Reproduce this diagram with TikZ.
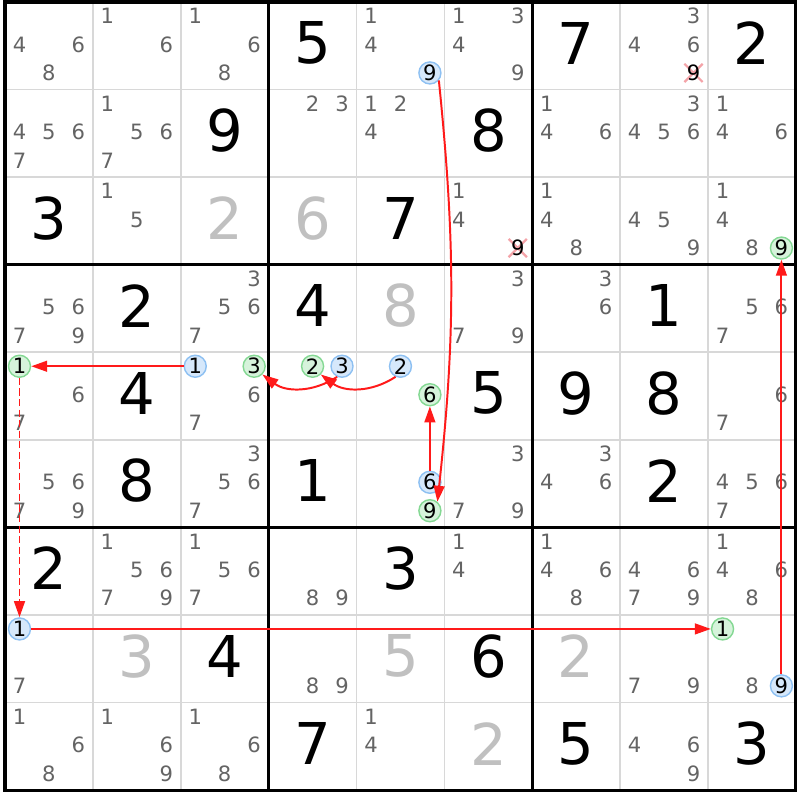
\documentclass[tikz,border=0pt]{standalone}
\usepackage{fontspec}
\setmainfont{DejaVu Sans}
\usepackage{tikz}
\usetikzlibrary{arrows.meta, shapes.misc}
\definecolor{Cand_Gray}{HTML}{646464}
\definecolor{Solved_Gray}{HTML}{C0C0C0}
\definecolor{Grid_Gray}{HTML}{D8D8D8}
\definecolor{On_Blue}{HTML}{D6E8FB}
\definecolor{On_BlueLine}{HTML}{8DC0F2}
\definecolor{Off_Green}{HTML}{D6F3DB}
\definecolor{Off_GreenLine}{HTML}{84D893}
\definecolor{Link_Red}{HTML}{FF1A1A}
\definecolor{Elim_Pink}{HTML}{F4A3A8}

% candidate d of cell (r,c) sits in a 3x3 sub-grid
\newcommand{\candpos}[3]{%
    \pgfmathsetmacro\cx{#2-1+0.165+0.335*mod(#3-1,3)}%
    \pgfmathsetmacro\cy{#1-1+0.16+0.325*int((#3-1)/3)}}
\newcommand{\cands}[3]{%
    \foreach \dig in {#3} {%
        \candpos{#1}{#2}{\dig}%
        \node[cand] (k#1#2\dig) at (\cx,\cy) {\dig};
    }}
\newcommand{\linkcand}[4]{%
    \candpos{#1}{#2}{#3}%
    \node[#4] (h#1#2#3) at (\cx,\cy) {#3};}
\newcommand{\elimcand}[3]{%
    \candpos{#1}{#2}{#3}%
    \node[elimx] (x#1#2#3) at (\cx,\cy) {};
    \node[candtxt] (k#1#2#3) at (\cx,\cy) {#3};}

\begin{document}
\begin{tikzpicture}[x=2.197cm, y=-2.189cm,
        candtxt/.style={font=\fontsize{15}{15}\selectfont, inner sep=0pt},
        cand/.style={candtxt, text=Cand_Gray},
        given/.style={font=\fontsize{41}{41}\selectfont, inner sep=0pt},
        solved/.style={given, text=Solved_Gray},
        onnode/.style={candtxt, circle, draw=On_BlueLine, fill=On_Blue, line width=1pt, minimum size=0.55cm},
        offnode/.style={onnode, draw=Off_GreenLine, fill=Off_Green},
        elimx/.style={cross out, draw=Elim_Pink, line width=1.6pt, minimum size=0.4cm, inner sep=0pt},
        cellline/.style={Grid_Gray, line width=1.2pt},
        boxline/.style={black, line width=2.2pt, line cap=rect},
        link/.style={-{Triangle[length=0.4cm, width=0.27cm]}, Link_Red, line width=1.4pt},
        weaklink/.style={link, dash pattern=on 5pt off 2.5pt}]
        % Page
        \fill[white] (-0.0569,-0.0228) rectangle (9.0444,9.1138);
        \useasboundingbox (-0.0569,-0.0228) rectangle (9.0444,9.1138);

        % 1. Grid
        \foreach \i in {1,2,4,5,7,8} {
            \draw[cellline] (\i,0) -- (\i,9);
            \draw[cellline] (0,\i) -- (9,\i);
        }
        \foreach \i in {0,3,6,9} {
            \draw[boxline] (\i,0) -- (\i,9);
            \draw[boxline] (0,\i) -- (9,\i);
        }

        % 2. Givens and solved cells
        \foreach \r/\c/\v in {1/4/5, 1/7/7, 1/9/2, 2/3/9, 2/6/8, 3/1/3, 3/5/7, 4/2/2, 4/4/4, 4/8/1, 5/2/4, 5/6/5,
                5/7/9, 5/8/8, 6/2/8, 6/4/1, 6/8/2, 7/1/2, 7/5/3, 8/3/4, 8/6/6, 9/4/7, 9/7/5, 9/9/3}
            \node[given] (g\r\c) at (\c-0.5, \r-0.53) {\v};
        \foreach \r/\c/\v in {3/3/2, 3/4/6, 4/5/8, 8/2/3, 8/5/5, 8/7/2, 9/6/2}
            \node[solved] (g\r\c) at (\c-0.5, \r-0.53) {\v};

        % 3. Pencil marks
        \cands{1}{1}{4,6,8} \cands{1}{2}{1,6} \cands{1}{3}{1,6,8} \cands{1}{5}{1,4} \cands{1}{6}{1,3,4,9}
        \cands{1}{8}{3,4,6}
        \cands{2}{1}{4,5,6,7} \cands{2}{2}{1,5,6,7} \cands{2}{4}{2,3} \cands{2}{5}{1,2,4} \cands{2}{7}{1,4,6}
        \cands{2}{8}{3,4,5,6} \cands{2}{9}{1,4,6}
        \cands{3}{2}{1,5} \cands{3}{6}{1,4} \cands{3}{7}{1,4,8} \cands{3}{8}{4,5,9} \cands{3}{9}{1,4,8}
        \cands{4}{1}{5,6,7,9} \cands{4}{3}{3,5,6,7} \cands{4}{6}{3,7,9} \cands{4}{7}{3,6} \cands{4}{9}{5,6,7}
        \cands{5}{1}{6,7} \cands{5}{3}{6,7} \cands{5}{9}{6,7}
        \cands{6}{1}{5,6,7,9} \cands{6}{3}{3,5,6,7} \cands{6}{6}{3,7,9} \cands{6}{7}{3,4,6} \cands{6}{9}{4,5,6,7}
        \cands{7}{2}{1,5,6,7,9} \cands{7}{3}{1,5,6,7} \cands{7}{4}{8,9} \cands{7}{6}{1,4} \cands{7}{7}{1,4,6,8}
        \cands{7}{8}{4,6,7,9} \cands{7}{9}{1,4,6,8}
        \cands{8}{1}{7} \cands{8}{4}{8,9} \cands{8}{8}{7,9} \cands{8}{9}{8}
        \cands{9}{1}{1,6,8} \cands{9}{2}{1,6,9} \cands{9}{3}{1,6,8} \cands{9}{5}{1,4} \cands{9}{8}{4,6,9}

        % 4. Eliminations
        \elimcand{1}{8}{9}
        \elimcand{3}{6}{9}

        % 5. Chain candidates
        \linkcand{1}{5}{9}{onnode}  \linkcand{6}{5}{9}{offnode}
        \linkcand{6}{5}{6}{onnode}  \linkcand{5}{5}{6}{offnode}
        \linkcand{5}{5}{2}{onnode}  \linkcand{5}{4}{2}{offnode}
        \linkcand{5}{4}{3}{onnode}  \linkcand{5}{3}{3}{offnode}
        \linkcand{5}{3}{1}{onnode}  \linkcand{5}{1}{1}{offnode}
        \linkcand{8}{1}{1}{onnode}  \linkcand{8}{9}{1}{offnode}
        \linkcand{8}{9}{9}{onnode}  \linkcand{3}{9}{9}{offnode}

        % 6. Links
        \draw[link] (h159.-40) to[bend left=6] (h659.50);
        \draw[link] (h656) -- (h556);
        \draw[link] (h552.-115) to[bend left=35] (h542.-45);
        \draw[link] (h543.-115) to[bend left=35] (h533.-45);
        \draw[link] (h531) -- (h511);
        \draw[weaklink] (h511) -- (h811);
        \draw[link] (h811) -- (h891);
        \draw[link] (h899) -- (h399);

    \end{tikzpicture}
\end{document}
